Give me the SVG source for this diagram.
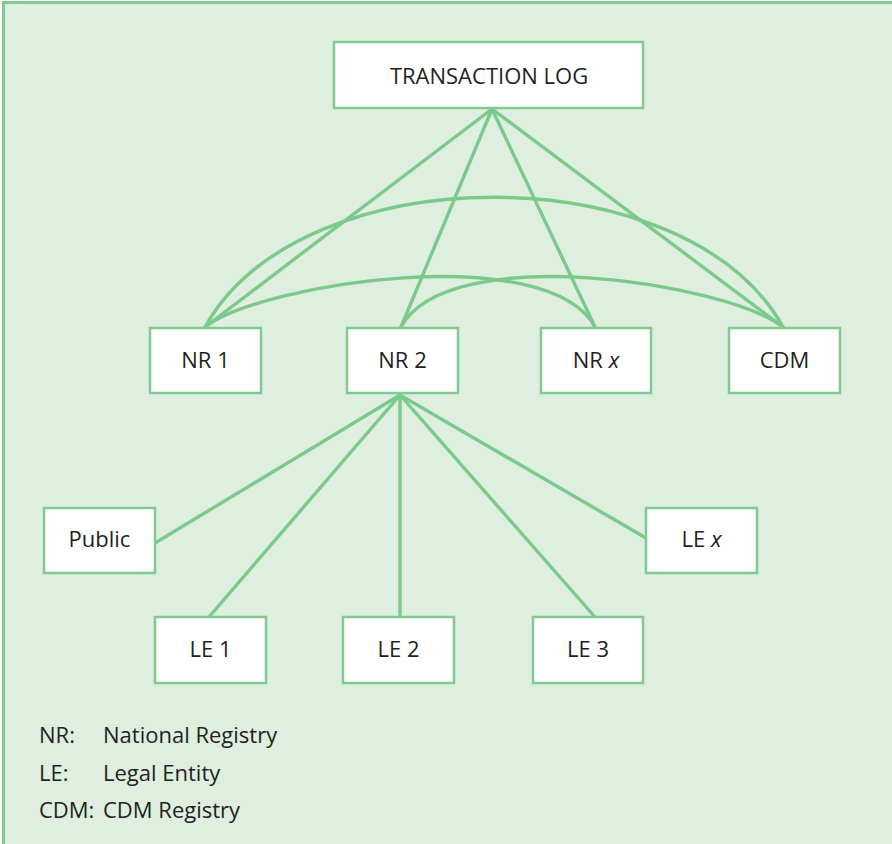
<svg xmlns="http://www.w3.org/2000/svg" width="892" height="844" viewBox="0 0 892 844">
<style>
.bg{fill:#deefe0;stroke:#80c990;stroke-width:3}
.box{fill:#ffffff;stroke:#80c990;stroke-width:2.5}
.ln{fill:none;stroke:#7cc98c;stroke-width:3.4;stroke-linecap:round}
.t{font-family:"Open Sans","Noto Sans","Liberation Sans",sans-serif;font-size:22px;fill:#231f20;text-anchor:middle}
.lg{font-family:"Open Sans","Noto Sans","Liberation Sans",sans-serif;font-size:22px;fill:#231f20}
</style>
<rect class="bg" x="3.5" y="2.5" width="900" height="860"/>
<g id="connectors">
<path class="ln" d="M492,109 L205,327"/>
<path class="ln" d="M492,109 L401,327"/>
<path class="ln" d="M492,109 L595,327"/>
<path class="ln" d="M492,109 L783,327"/>
<path class="ln" d="M205,327 C301,154 687,154 783,327"/>
<path class="ln" d="M205,327 C262,283 548,240 595,327"/>
<path class="ln" d="M401,327 C448,240 726,283 783,327"/>
<path class="ln" d="M400,395 L155,543"/>
<path class="ln" d="M400,395 L209,617"/>
<path class="ln" d="M400,395 L400,617"/>
<path class="ln" d="M400,395 L595,617"/>
<path class="ln" d="M400,395 L646,538"/>
</g>
<g id="transaction-log"><rect class="box" x="334" y="42" width="309" height="66"/><text class="t" x="489" y="84">TRANSACTION LOG</text></g>
<g id="nr1"><rect class="box" x="150" y="328" width="111" height="65"/><text class="t" x="205.5" y="368">NR 1</text></g>
<g id="nr2"><rect class="box" x="347" y="328" width="111" height="65"/><text class="t" x="402.5" y="368">NR 2</text></g>
<g id="nrx"><rect class="box" x="541" y="328" width="110" height="65"/><text class="t" x="596" y="368">NR <tspan font-style="italic">x</tspan></text></g>
<g id="cdm"><rect class="box" x="729" y="328" width="111" height="65"/><text class="t" x="784.5" y="368">CDM</text></g>
<g id="public"><rect class="box" x="44" y="508" width="111" height="65"/><text class="t" x="99.5" y="547">Public</text></g>
<g id="lex"><rect class="box" x="646" y="508" width="111" height="65"/><text class="t" x="701.5" y="547">LE <tspan font-style="italic">x</tspan></text></g>
<g id="le1"><rect class="box" x="155" y="617" width="111" height="66"/><text class="t" x="210.5" y="657">LE 1</text></g>
<g id="le2"><rect class="box" x="343" y="617" width="111" height="66"/><text class="t" x="398.5" y="657">LE 2</text></g>
<g id="le3"><rect class="box" x="533" y="617" width="110" height="66"/><text class="t" x="588" y="657">LE 3</text></g>
<g id="legend">
<text class="lg" x="39" y="743">NR:</text><text class="lg" x="103" y="743">National Registry</text>
<text class="lg" x="39" y="781">LE:</text><text class="lg" x="103" y="781">Legal Entity</text>
<text class="lg" x="39" y="818">CDM:</text><text class="lg" x="103" y="818">CDM Registry</text>
</g>
</svg>
